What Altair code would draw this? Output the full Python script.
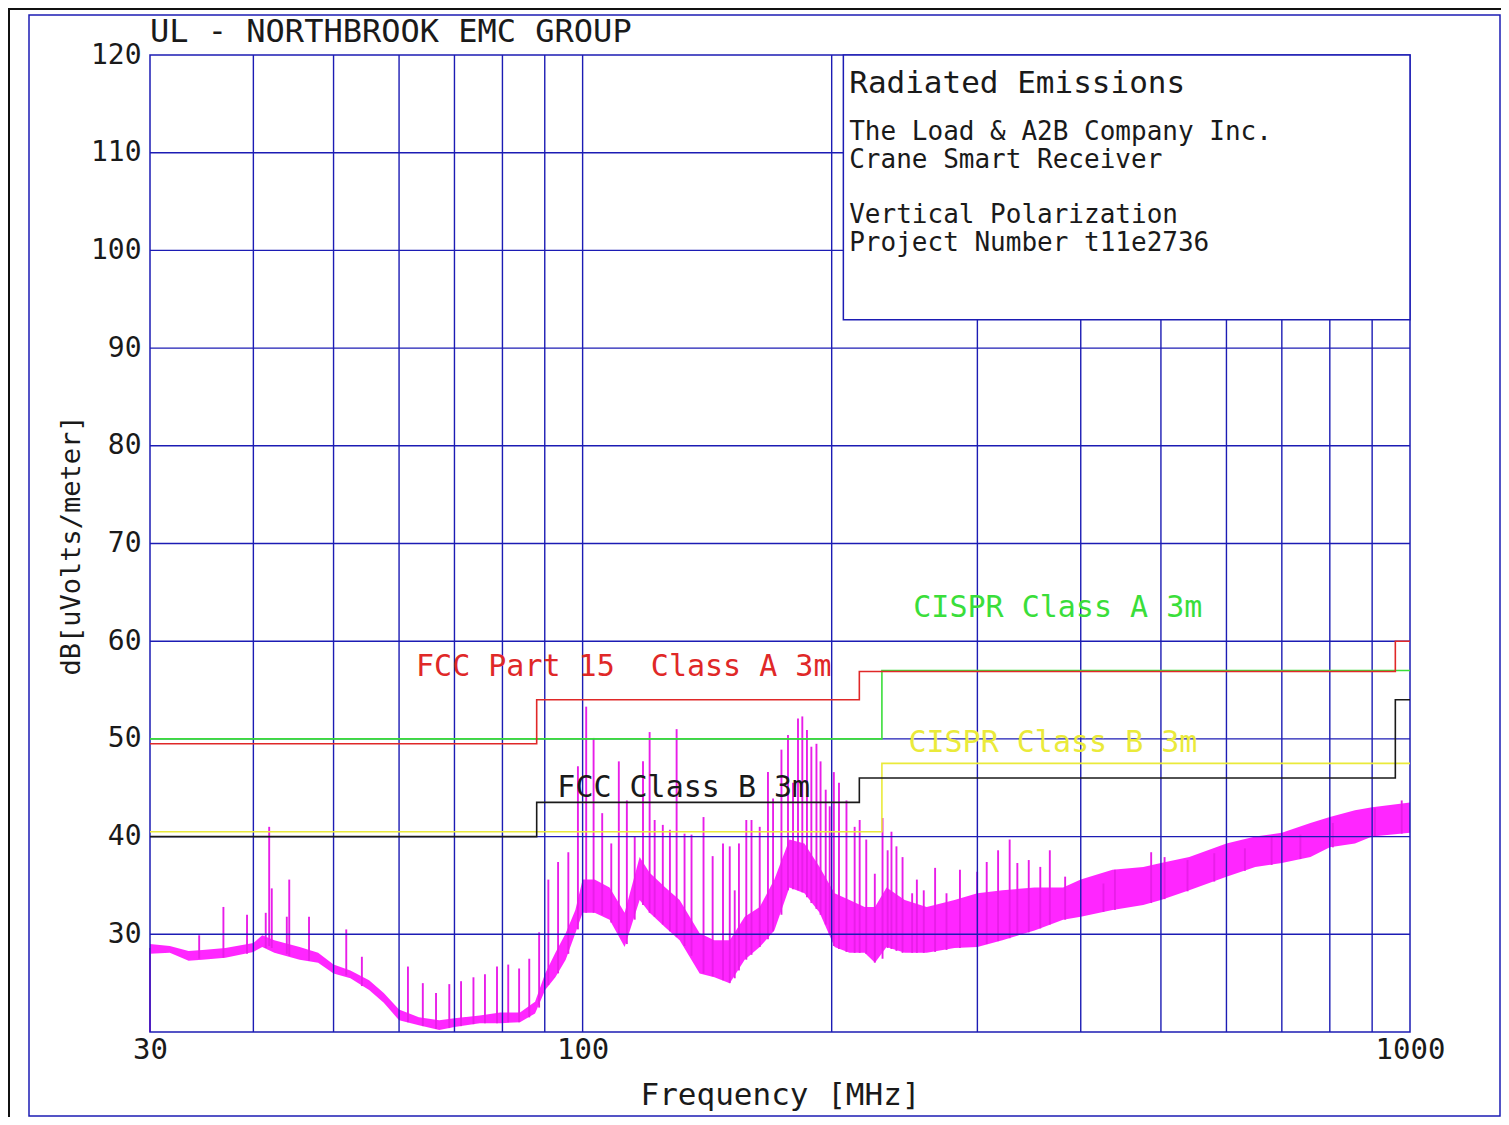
import altair as alt
import pandas as pd

# ---------------- measured trace: noise-band envelope ----------------
band_freq = [30.0, 31.7, 33.4, 34.7, 37.0, 40.0, 41.0, 42.4, 45.5, 47.9, 50.0, 52.4,
             55.2, 57.5, 60.0, 63.4, 67.1, 70.0, 75.1, 79.5, 84.0, 87.6, 90.1, 92.7,
             95.4, 98.0, 100.0, 103.4, 107.8, 112.4, 117.2, 120.5, 125.9, 131.0, 138.5,
             144.3, 150.6, 157.0, 163.7, 170.5, 177.8, 185.4, 193.4, 201.6, 210.2, 219.2,
             225.6, 233.0, 245.1, 260.5, 281.5, 300.0, 321.7, 351.7, 380.8, 400.0, 437.0,
             476.0, 500.0, 541.0, 600.0, 650.0, 700.0, 758.0, 800.0, 858.0, 900.0, 1000.0]
band_lo = [28.0, 28.1, 27.3, 27.4, 27.6, 28.2, 28.7, 28.1, 27.4, 27.1, 26.0, 25.5,
           24.3, 23.0, 21.2, 20.7, 20.2, 20.5, 20.9, 20.9, 21.0, 21.9, 24.3, 25.6,
           27.4, 30.1, 32.2, 32.2, 31.5, 28.7, 33.5, 32.2, 30.7, 29.4, 26.0,
           25.6, 25.0, 27.4, 28.7, 30.4, 34.8, 34.2, 32.2, 28.7, 28.1, 28.1,
           27.1, 28.7, 28.1, 28.1, 28.6, 28.7, 29.4, 30.4, 31.5, 31.8, 32.5,
           33.0, 33.5, 34.5, 35.9, 36.9, 37.3, 37.9, 38.9, 39.3, 40.0, 40.4]
band_hi = [29.0, 28.8, 28.3, 28.4, 28.6, 29.1, 29.9, 29.4, 28.7, 28.1, 26.9, 26.3,
           25.3, 24.0, 22.3, 21.5, 21.2, 21.4, 21.7, 22.0, 22.0, 23.1, 26.0, 28.1,
           30.1, 32.5, 35.6, 35.6, 34.8, 32.2, 37.9, 36.3, 34.8, 33.5, 30.1,
           29.4, 29.4, 31.8, 32.8, 35.6, 39.7, 39.3, 36.9, 34.2, 33.5, 32.8,
           32.8, 34.8, 33.5, 32.8, 33.5, 34.2, 34.5, 34.8, 34.8, 35.6, 36.6,
           36.9, 37.3, 37.9, 39.3, 40.0, 40.4, 41.4, 42.0, 42.7, 43.0, 43.5]

# ---------------- narrowband spikes (MHz, peak dB, base dB) ----------------
spike_freq = [30.0, 34.4, 36.8, 39.3, 41.4, 41.8, 42.1, 43.9, 44.2, 46.7, 51.8, 54.1,
              61.5, 64.1, 66.5, 69.0, 71.3, 73.8, 76.2, 78.8, 81.3, 83.8, 86.2, 88.6,
              90.9, 93.4, 96.1, 98.7, 101.0, 103.1, 105.6, 108.3, 110.6, 113.1, 115.6,
              118.3, 120.5, 122.2, 125.0, 127.5, 129.9, 132.8, 135.4, 140.0, 143.6,
              147.8, 150.6, 152.7, 154.5, 157.7, 160.0, 163.7, 167.5, 169.9, 173.9,
              177.1, 179.6, 182.1, 184.3, 186.7, 189.0, 191.7, 193.9, 196.7, 198.9,
              201.2, 204.1, 208.4, 213.2, 216.2, 220.2, 225.5, 230.4, 233.7, 236.2,
              239.5, 243.6, 250.2, 253.5, 258.4, 266.7, 275.3, 285.8, 299.8, 307.9,
              317.8, 328.2, 335.3, 346.1, 357.4, 367.0, 383.0, 426.1, 439.9, 486.6,
              505.1, 538.4, 580.0, 631.6, 680.4, 737.1, 806.8, 907.0, 977.2]
spike_peak = [28.6, 29.9, 32.8, 32.0, 32.2, 41.0, 34.7, 31.8, 35.6, 31.8, 30.5, 27.7,
              26.7, 25.0, 24.0, 24.9, 25.2, 25.6, 25.9, 26.7, 26.9, 26.5, 27.5, 30.2,
              35.6, 37.4, 38.4, 47.2, 53.3, 50.1, 42.4, 39.3, 47.7, 43.7, 40.0,
              47.7, 50.7, 41.7, 41.2, 40.7, 51.0, 40.3, 40.2, 42.0, 38.0,
              39.3, 39.0, 34.5, 39.3, 41.7, 41.7, 41.0, 46.6, 43.9, 48.9,
              50.4, 45.5, 52.1, 52.3, 50.9, 49.2, 49.5, 47.7, 44.8, 43.1,
              46.6, 45.5, 43.7, 41.0, 41.7, 39.7, 36.2, 41.9, 38.6, 40.5,
              39.0, 37.9, 34.2, 35.6, 34.5, 36.8, 34.2, 36.6, 36.4, 37.4,
              38.6, 39.7, 37.3, 37.6, 36.9, 38.6, 35.9, 35.2, 36.6, 38.4,
              37.9, 37.6, 38.3, 38.8, 40.0, 40.2, 41.4, 42.9, 43.7]
spike_base = [20.0, 27.5, 27.6, 28.0, 28.6, 28.8, 28.6, 28.0, 27.8, 27.3, 25.8, 24.7,
              21.0, 20.6, 20.3, 20.4, 20.6, 20.8, 20.9, 20.9, 21.0, 21.0, 21.5, 22.5,
              24.8, 26.0, 28.0, 30.5, 32.2, 32.2, 32.0, 31.2, 30.0, 29.0, 31.5,
              33.0, 32.2, 31.8, 31.0, 30.3, 29.7, 28.8, 27.8, 26.0, 25.7,
              25.3, 25.0, 25.5, 26.3, 27.4, 27.9, 28.7, 29.5, 30.3, 32.0,
              34.5, 34.6, 34.5, 34.3, 33.8, 33.2, 32.6, 32.0, 31.0, 30.0,
              28.8, 28.5, 28.2, 28.1, 28.1, 28.0, 27.1, 27.5, 28.6, 28.5,
              28.3, 28.1, 28.1, 28.1, 28.1, 28.2, 28.4, 28.6, 28.7, 29.0,
              29.3, 29.6, 29.9, 30.2, 30.6, 31.0, 31.5, 32.3, 32.5, 33.2,
              33.6, 34.4, 35.4, 36.5, 37.1, 37.7, 38.9, 40.0, 40.3]

# ---------------- limit lines (step after) ----------------
fcc_a_freq = [30, 88, 216, 960, 1000]
fcc_a_level = [49.5, 54.0, 56.9, 60.0, 60.0]
fcc_b_freq = [30, 88, 216, 960, 1000]
fcc_b_level = [40.0, 43.5, 46.0, 54.0, 54.0]
cispr_a_freq = [30, 230, 1000]
cispr_a_level = [50.0, 57.0, 57.0]
cispr_b_freq = [30, 230, 1000]
cispr_b_level = [40.5, 47.5, 47.5]

limit_label_text = ["FCC Part 15\u00a0\u00a0Class A 3m", "CISPR Class A 3m",
                    "CISPR Class B 3m", "FCC Class B 3m"]
limit_label_freq = [62.9, 251.0, 247.6, 93.2]
limit_label_level = [57.4, 63.4, 49.6, 45.0]

# ---------------- grid / ticks ----------------
grid_freq = [40, 50, 60, 70, 80, 90, 100, 200, 300, 400, 500, 600, 700, 800, 900]
grid_level = [30, 40, 50, 60, 70, 80, 90, 100, 110]
x_tick_values = [30, 100, 1000]
y_tick_values = [30, 40, 50, 60, 70, 80, 90, 100, 110, 120]

# ---------------- header / info box ----------------
header_text = ["UL - NORTHBROOK EMC GROUP"]
header_freq = [30.0]
header_level = [122.35]
info_text = ["Radiated Emissions", "The Load & A2B Company Inc.", "Crane Smart Receiver",
             "Vertical Polarization", "Project Number t11e2736"]
info_level = [117.0, 112.1, 109.25, 103.6, 100.8]
info_size = [31, 26, 26, 26, 26]
info_freq = [210.0]
box_freq = [206.6, 1000.0]
box_level = [92.9, 120.0]

FONT = "DejaVu Sans Mono"
BLUE = "#1c1cb4"
RED = "#e02828"
GREEN = "#3ade3a"
YELLOW = "#eaea3a"
BLACK = "#1a1a1a"
MAGENTA = "#ff00ff"

xscale = alt.Scale(type="log", domain=[30, 1000], nice=False)
yscale = alt.Scale(domain=[20, 120], nice=False, zero=False)

xaxis = alt.Axis(values=x_tick_values, format="d", grid=False, ticks=False, domain=False,
                 labelFont=FONT, labelFontSize=29, labelColor=BLACK, labelPadding=3,
                 labelFlush=False, labelOverlap=False,
                 title="Frequency [MHz]", titleFont=FONT, titleFontSize=31,
                 titleFontWeight="normal", titleColor=BLACK, titleY=63,
                 titleBaseline="middle")
yaxis = alt.Axis(values=y_tick_values, grid=False, ticks=False, domain=False,
                 labelFont=FONT, labelFontSize=28, labelColor=BLACK, labelPadding=9,
                 labelFlush=False, labelOverlap=False,
                 title="dB[uVolts/meter]", titleFont=FONT, titleFontSize=27,
                 titleFontWeight="normal", titleColor=BLACK, titleX=-79, titleY=490,
                 titleBaseline="middle")


def X(field="f"):
    return alt.X(f"{field}:Q", scale=xscale, axis=xaxis)


def Y(field="v"):
    return alt.Y(f"{field}:Q", scale=yscale, axis=yaxis)


band_df = pd.DataFrame({"f": band_freq, "v": band_lo, "v2": band_hi})
spike_df = pd.DataFrame({"f": spike_freq, "v": spike_base, "v2": spike_peak})

band = alt.Chart(band_df).mark_area(color=MAGENTA, opacity=0.85, interpolate="linear").encode(
    x=X(), y=Y(), y2="v2:Q")
spikes = alt.Chart(spike_df).mark_rule(color="#e81ee8", strokeWidth=1.9).encode(
    x=X(), y=Y(), y2="v2:Q")

vgrid = alt.Chart(pd.DataFrame({"f": grid_freq})).mark_rule(color=BLUE, strokeWidth=1.4).encode(
    x=X(), y=alt.value(0), y2=alt.value(977))
hgrid = alt.Chart(pd.DataFrame({"v": grid_level})).mark_rule(color=BLUE, strokeWidth=1.4).encode(
    y=Y(), x=alt.value(0), x2=alt.value(1260))


def limit(freqs, levels, color):
    return alt.Chart(pd.DataFrame({"f": freqs, "v": levels})).mark_line(
        color=color, strokeWidth=1.6, interpolate="step-after").encode(x=X(), y=Y())


limits = [limit(cispr_a_freq, cispr_a_level, GREEN),
          limit(cispr_b_freq, cispr_b_level, YELLOW),
          limit(fcc_b_freq, fcc_b_level, BLACK),
          limit(fcc_a_freq, fcc_a_level, RED)]

lab_df = pd.DataFrame({"f": limit_label_freq, "v": limit_label_level, "t": limit_label_text,
                       "c": [RED, GREEN, YELLOW, BLACK]})
limit_labels = alt.Chart(lab_df).mark_text(font=FONT, fontSize=30, align="left",
                                           baseline="middle").encode(
    x=X(), y=Y(), text="t:N", color=alt.Color("c:N", scale=None))

box_df = pd.DataFrame({"f": [box_freq[0]], "f2": [box_freq[1]], "v": [box_level[0]],
                       "v2": [box_level[1]]})
box = alt.Chart(box_df).mark_rect(fill="white", stroke=BLUE, strokeWidth=1.5).encode(
    x=X(), x2="f2:Q", y=Y(), y2="v2:Q")

info_df = pd.DataFrame({"f": info_freq * len(info_text), "v": info_level, "t": info_text,
                        "s": info_size})
info = alt.Chart(info_df).mark_text(font=FONT, align="left", baseline="middle",
                                    color=BLACK).encode(
    x=X(), y=Y(), text="t:N", size=alt.Size("s:Q", scale=None))

header_df = pd.DataFrame({"f": header_freq, "v": header_level, "t": header_text})
header = alt.Chart(header_df).mark_text(font=FONT, fontSize=32, align="left",
                                        baseline="middle", color=BLACK).encode(
    x=X(), y=Y(), text="t:N")

one = pd.DataFrame({"a": [0]})
outer_blue = alt.Chart(one).mark_rect(fill="transparent", stroke=BLUE, strokeWidth=1.5).encode(
    x=alt.value(-121), x2=alt.value(1350), y=alt.value(-40), y2=alt.value(1061))
outer_black = alt.Chart(one).mark_rect(fill="transparent", stroke="#111111",
                                       strokeWidth=2).encode(
    x=alt.value(-141), x2=alt.value(1400), y=alt.value(-46), y2=alt.value(1100))
plot_border = alt.Chart(one).mark_rect(fill="transparent", stroke=BLUE, strokeWidth=1.5).encode(
    x=alt.value(0), x2=alt.value(1260), y=alt.value(0), y2=alt.value(977))

chart = alt.layer(
    outer_black, outer_blue, band, spikes, vgrid, hgrid, plot_border, *limits,
    box, info, limit_labels, header
).properties(
    width=1260, height=977,
    padding={"left": 142, "top": 47, "right": 91, "bottom": 85},
    autosize=alt.AutoSizeParams(type="none"),
    background="white",
).configure_view(stroke=None)

chart.save("out.html", embed_options={"renderer": "svg", "actions": False})
